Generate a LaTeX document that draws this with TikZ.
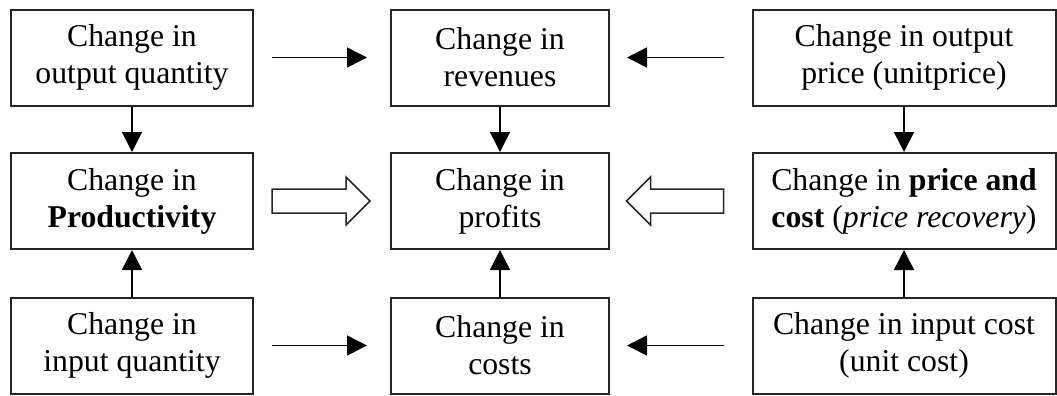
\documentclass[tikz,border=0pt]{standalone}
\usepackage{fontspec}
\setmainfont{Liberation Serif}
\usetikzlibrary{arrows.meta, positioning}

\begin{document}
\begin{tikzpicture}[
    x=0.4pt, y=-0.4pt,
    box/.style = {rectangle, draw=black!85, line width=0.8pt, align=center, font=\fontsize{12.7}{14.8}\selectfont, minimum height=38.4pt, inner sep=2pt},
    arr/.style = {-{Triangle[length=8pt, width=8pt]}, line width=0.6pt},
    hollow/.style = {draw=black!85, line width=0.6pt, fill=white, line join=miter}
]
\useasboundingbox (0,0) rectangle (1057,395);

% Top row
\node (oq) [box, minimum width=96.8pt] at (132, 57.5) {Change in\\output quantity};
\node (rev) [box, minimum width=87.2pt] at (500, 57.5) {Change in\\revenues};
\node (op) [box, minimum width=121.2pt] at (904, 57.5) {Change in output\\price (unitprice)};

% Middle row
\node (prod) [box, minimum width=96.8pt] at (132, 201) {Change in\\\textbf{Productivity}};
\node (prof) [box, minimum width=87.2pt] at (500, 201) {Change in\\profits};
\node (pr) [box, minimum width=121.2pt] at (904, 201) {Change in \textbf{price and}\\\textbf{cost} (\textit{price recovery})};

% Bottom row
\node (iq) [box, minimum width=96.8pt] at (132, 345.5) {Change in\\input quantity};
\node (cost) [box, minimum width=87.2pt] at (500, 345.5) {Change in\\costs};
\node (ic) [box, minimum width=121.2pt] at (904, 345.5) {Change in input cost\\(unit cost)};

% Horizontal arrows
\draw [arr, shorten <=7.2pt, shorten >=9.2pt] (oq.east) -- (rev.west);
\draw [arr, shorten <=11.2pt, shorten >=6.8pt] (op.west) -- (rev.east);
\draw [arr, shorten <=7.2pt, shorten >=9.2pt] (iq.east) -- (cost.west);
\draw [arr, shorten <=11.2pt, shorten >=6.8pt] (ic.west) -- (cost.east);

% Vertical arrows
\draw [arr] (oq.south) -- (prod.north);
\draw [arr] (rev.south) -- (prof.north);
\draw [arr] (op.south) -- (pr.north);
\draw [arr] (iq.north) -- (prod.south);
\draw [arr] (cost.north) -- (prof.south);
\draw [arr] (ic.north) -- (pr.south);

% Hollow arrows into profits
\draw [hollow] ([xshift=7.2pt]prod.east) ++(0,-12) -- ++(74,0) -- ++(0,-12) -- ++(24,24) -- ++(-24,24) -- ++(0,-12) -- ++(-74,0) -- cycle;
\draw [hollow] ([xshift=-11.2pt]pr.west) ++(0,-12) -- ++(-73,0) -- ++(0,-12) -- ++(-24,24) -- ++(24,24) -- ++(0,-12) -- ++(73,0) -- cycle;

\end{tikzpicture}
\end{document}
